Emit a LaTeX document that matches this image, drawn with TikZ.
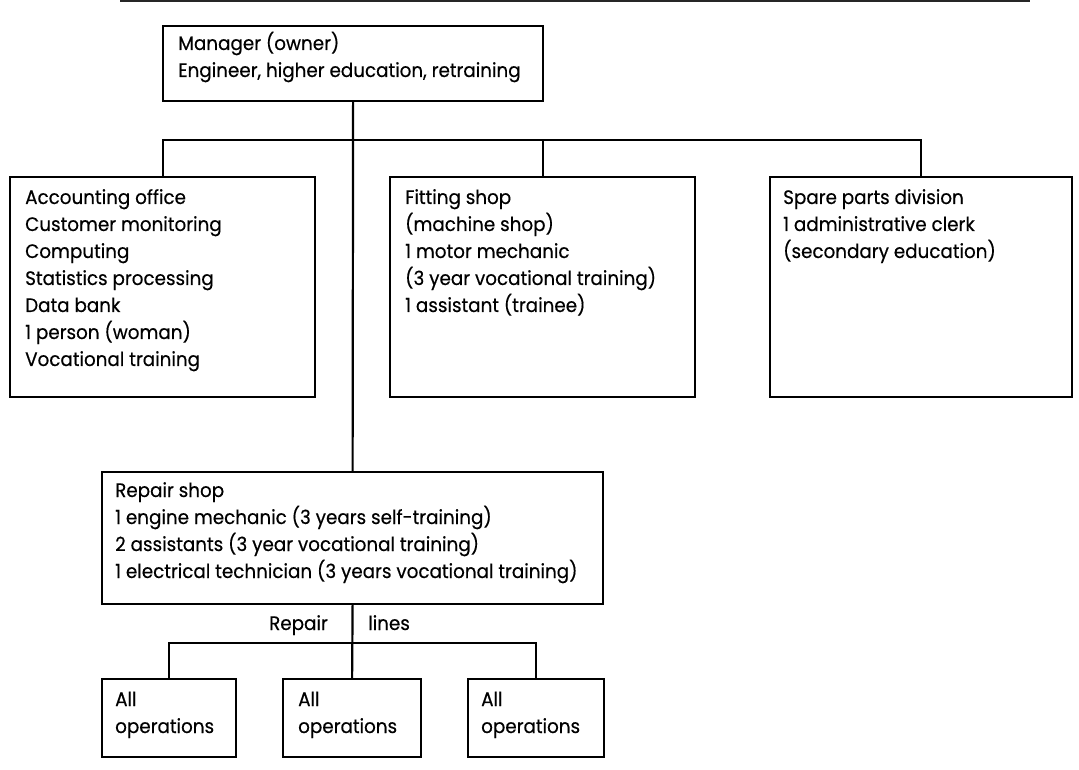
\documentclass[tikz,border=0pt]{standalone}
\usepackage{fontspec}
\setmainfont[FakeStretch=0.94,FakeBold=0.4]{Poppins}
\usetikzlibrary{calc}
\begin{document}
\begin{tikzpicture}[x=1pt,y=-1pt,
  box/.style={draw=black, line width=2.2pt, rectangle, inner sep=0pt, anchor=north west},
  label/.style={anchor=base west, inner sep=0pt, font=\fontsize{19.5}{27}\selectfont},
  wire/.style={draw=black, line width=2.2pt},
  rule/.style={draw=black!85, line width=2.4pt}]
\useasboundingbox (0,0) rectangle (1079,770);
\newcommand\lines[1]{\begin{tabular}[t]{@{}l@{}}#1\end{tabular}}

% rule along the top edge
\draw[rule] (120,1) -- (1030,1);

% boxes
\node[box, minimum width=380pt, minimum height=75pt] (mgr) at (162,25) {};
\node[box, minimum width=305pt, minimum height=220pt] (acc) at (9,176) {};
\node[box, minimum width=305pt, minimum height=220pt] (fit) at (389,176) {};
\node[box, minimum width=302pt, minimum height=220pt] (spr) at (769,176) {};
\node[box, minimum width=501pt, minimum height=132pt] (rep) at (101,471) {};
\node[box, minimum width=134pt, minimum height=78pt] (op1) at (101,678) {};
\node[box, minimum width=138pt, minimum height=78pt] (op2) at (282,678) {};
\node[box, minimum width=136pt, minimum height=78pt] (op3) at (467,678) {};

% box texts
\node[label] (mgr-t) at (178,50) {\lines{Manager (owner)\\Engineer, higher education, retraining}};
\node[label] (acc-t) at (25,204) {\lines{Accounting office\\Customer monitoring\\Computing\\Statistics processing\\Data bank\\1 person (woman)\\Vocational training}};
\node[label] (fit-t) at (405,204) {\lines{Fitting shop\\(machine shop)\\1 motor mechanic\\(3 year vocational training)\\1 assistant (trainee)}};
\node[label] (spr-t) at (783,204) {\lines{Spare parts division\\1 administrative clerk\\(secondary education)}};
\node[label] (rep-t) at (115,497) {\lines{Repair shop\\1 engine mechanic (3 years self-training)\\2 assistants (3 year vocational training)\\1 electrical technician (3 years vocational training)}};
\node[label] (op1-t) at (115,706) {\lines{All\\operations}};
\node[label] (op2-t) at (298,706) {\lines{All\\operations}};
\node[label] (op3-t) at (481,706) {\lines{All\\operations}};

% caption beside the repair-line stem
\node[label, anchor=base east] (rl-a) at (328,630) {Repair};
\node[label] (rl-b) at (368,630) {lines};

% connectors
\coordinate (busY) at (0,140);
\coordinate (rlY) at (0,643);
\draw[wire] (mgr.south) -- (rep.north);
\draw[wire] (acc.north) |- (spr.north |- busY) -- (spr.north);
\draw[wire] (fit.north) -- (fit.north |- busY);
\draw[wire] (rep.south) -- (op2.north);
\draw[wire] (op1.north) |- (op3.north |- rlY) -- (op3.north);
\end{tikzpicture}
\end{document}
